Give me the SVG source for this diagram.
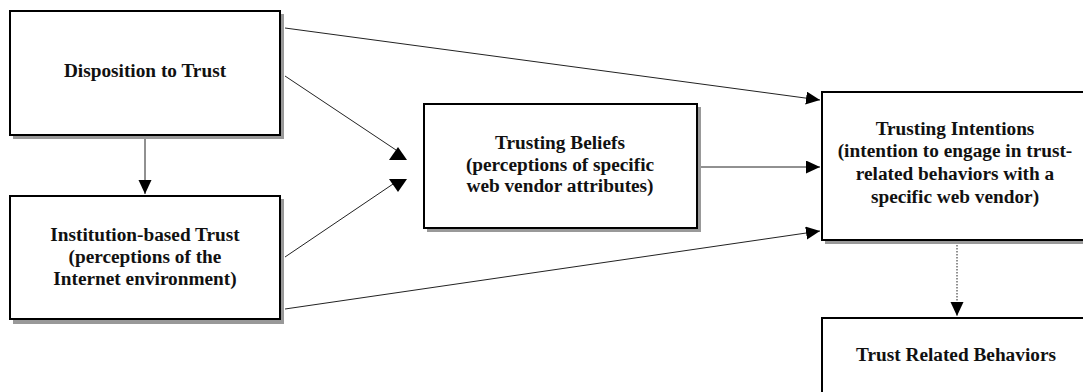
<svg xmlns="http://www.w3.org/2000/svg" width="1083" height="392" viewBox="0 0 1083 392">
<style>
.shadow{fill:#999;}
.box{fill:#fff;stroke:#000;stroke-width:2;}
.t{font-family:"Liberation Serif","Times New Roman",serif;font-weight:bold;font-size:19.3px;fill:#111;text-anchor:middle;}
.c{stroke:#222;stroke-width:1;fill:none;}
.dot{stroke:#222;stroke-width:1;fill:none;stroke-dasharray:1.5 1.5;}
.head{fill:#000;}
</style>
<defs>
<marker id="ah" markerUnits="userSpaceOnUse" markerWidth="15" markerHeight="14" refX="14" refY="6.5" orient="auto">
<path d="M0,0 L14,6.5 L0,13 Z" fill="#000"/>
</marker>
</defs>
<rect width="1083" height="392" fill="#fff"/>
<g id="connectors">
<line class="c" x1="145" y1="136" x2="145" y2="194" marker-end="url(#ah)"/>
<line class="c" x1="285" y1="76" x2="396" y2="150"/>
<polygon class="head" points="398,147 389,160 407,160"/>
<line class="c" x1="285" y1="257" x2="396" y2="182"/>
<polygon class="head" points="389,179 407,179 398,192"/>
<line class="c" x1="285" y1="28" x2="820" y2="100" marker-end="url(#ah)"/>
<line class="c" x1="698" y1="167" x2="820" y2="167" marker-end="url(#ah)"/>
<line class="c" x1="285" y1="309" x2="820" y2="231" marker-end="url(#ah)"/>
<line class="dot" x1="957" y1="242" x2="957" y2="316" marker-end="url(#ah)"/>
</g>
<g id="disposition">
<rect class="shadow" x="13" y="14" width="271" height="125"/>
<rect class="box" x="10" y="11" width="270" height="124"/>
<text class="t" x="145" y="77">Disposition to Trust</text>
</g>
<g id="institution">
<rect class="shadow" x="13" y="199" width="271" height="125"/>
<rect class="box" x="10" y="196" width="270" height="123"/>
<text class="t" x="145" y="241">Institution-based Trust</text>
<text class="t" x="145" y="263">(perceptions of the</text>
<text class="t" x="145" y="285">Internet environment)</text>
</g>
<g id="beliefs">
<rect class="shadow" x="427" y="107" width="274" height="125"/>
<rect class="box" x="424" y="104" width="273" height="124"/>
<text class="t" x="560" y="149">Trusting Beliefs</text>
<text class="t" x="560" y="171">(perceptions of specific</text>
<text class="t" x="560" y="192">web vendor attributes)</text>
</g>
<g id="intentions">
<rect class="shadow" x="825" y="95" width="270" height="149"/>
<rect class="box" x="822" y="92" width="270" height="148"/>
<text class="t" x="955" y="135">Trusting Intentions</text>
<text class="t" x="955" y="157">(intention to engage in trust-</text>
<text class="t" x="955" y="180">related behaviors with a</text>
<text class="t" x="955" y="203">specific web vendor)</text>
</g>
<g id="behaviors">
<rect class="shadow" x="825" y="321" width="270" height="100"/>
<rect class="box" x="822" y="318" width="270" height="100"/>
<text class="t" x="956" y="361">Trust Related Behaviors</text>
</g>
</svg>
